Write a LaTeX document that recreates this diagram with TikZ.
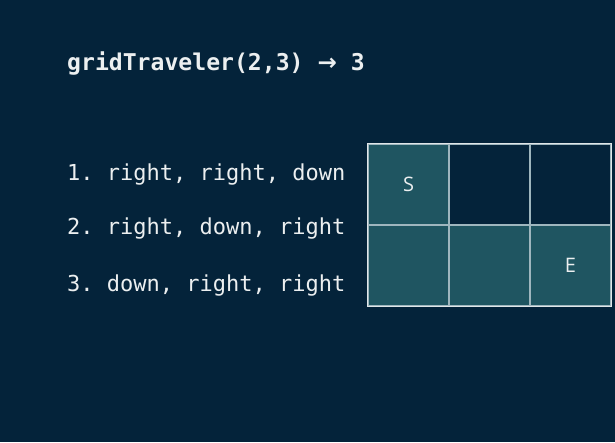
\documentclass[tikz,border=0pt]{standalone}
\usepackage{fontspec}
\setmonofont{DejaVu Sans Mono}
\newfontfamily\cellfont{Open Sans}
\newfontfamily\arrowfont{DejaVu Sans}
\definecolor{bg}{HTML}{04233A}
\definecolor{teal}{HTML}{1F5561}
\definecolor{gridln}{HTML}{9FB6BE}
\definecolor{txt}{HTML}{ECEFF0}
\begin{document}
\begin{tikzpicture}[x=1pt,y=-1pt,
  ttl/.style={anchor=west,inner sep=0pt,text=txt,font=\ttfamily\bfseries\fontsize{23.1}{26}\selectfont},
  item/.style={anchor=west,inner sep=0pt,text=txt,font=\ttfamily\fontsize{22}{26}\selectfont},
  cell/.style={draw=gridln,line width=1.2pt,minimum width=81pt,minimum height=81pt,inner sep=0pt,text=txt,font=\cellfont\fontsize{20}{22}\selectfont},
  filled/.style={cell,fill=teal},
  empty/.style={cell,fill=bg}]
\fill[bg] (0,0) rectangle (615,442);
\useasboundingbox (0,0) rectangle (615,442);
\node[ttl] (title) at (67,63.5) {gridTraveler(2,3) {\arrowfont\bfseries →} 3};
\node[item] (l1) at (67,175) {1. right, right, down};
\node[item] (l2) at (67,229) {2. right, down, right};
\node[item] (l3) at (67,285) {3. down, right, right};
\node[filled] (c11) at (408.5,184.5) {\raisebox{-3pt}{S}};
\node[empty]  (c12) at (489.5,184.5) {};
\node[empty]  (c13) at (570.5,184.5) {};
\node[filled] (c21) at (408.5,265.5) {};
\node[filled] (c22) at (489.5,265.5) {};
\node[filled] (c23) at (570.5,265.5) {\raisebox{-3pt}{E}};
\draw[draw=txt!85!gridln,line width=1.6pt] (c11.north west) rectangle (c23.south east);
\end{tikzpicture}
\end{document}
